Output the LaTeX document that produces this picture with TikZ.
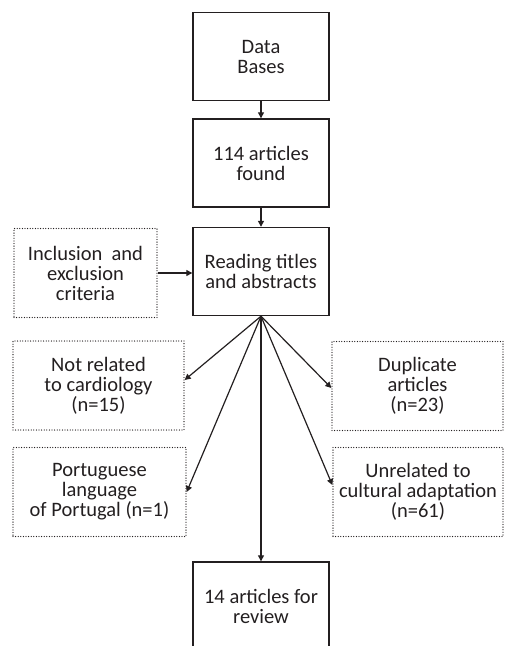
\documentclass[tikz,border=0pt]{standalone}
\usepackage{fontspec}
\setmainfont{Carlito}
\usetikzlibrary{arrows.meta}
\definecolor{ink}{HTML}{231F20}

\begin{document}
\begin{tikzpicture}[x=1pt,y=-1pt,
  font=\fontsize{20.5}{20}\selectfont,
  every node/.style={text=ink,align=center,inner sep=0pt},
  mainbox/.style={draw=ink,line width=1.4pt,minimum width=136pt,minimum height=88pt},
  sidebox/.style={draw=ink,line width=1.3pt,line cap=round,dash pattern=on 0pt off 2.6pt,minimum height=89pt},
  link/.style={draw=ink,line width=1.2pt,-{Triangle[length=6pt,width=6pt]}}]
\useasboundingbox (0,0) rectangle (504,646);
\node[mainbox] (db) at (261,56.5) {Data\\Bases};
\node[mainbox] (found) at (261,163) {114 articles\\found};
\node[mainbox] (read) at (261,271.5) {Reading titles\\and abstracts};
\node[sidebox,minimum width=143pt] (incl) at (85.5,273) {Inclusion~ and\\exclusion\\criteria};
\node[sidebox,minimum width=171pt] (notrel) at (98.5,385.5) {Not related\\to cardiology\\(n=15)};
\node[sidebox,minimum width=171pt] (dup) at (417.5,386) {Duplicate\\articles\\(n=23)};
\node[sidebox,minimum width=173pt] (port) at (99.5,492) {Portuguese\\language\\of Portugal (n=1)};
\node[sidebox,minimum width=170pt] (unrel) at (418,492) {Unrelated to\\cultural adaptation\\(n=61)};
\node[mainbox] (rev) at (261,606) {14 articles for\\review};

\draw[link] (db) -- (found);
\draw[link] (found) -- (read);
\draw[link] (incl.east) -- (incl.east -| read.west);
\draw[link] (read.south) -- ([yshift=5.5pt]notrel.east);
\draw[link] (read.south) -- ([yshift=-2pt]dup.west);
\draw[link] (read.south) -- (port.east);
\draw[link] (read.south) -- ([yshift=7pt]unrel.west);
\draw[link] (read) -- (rev);
\end{tikzpicture}
\end{document}
